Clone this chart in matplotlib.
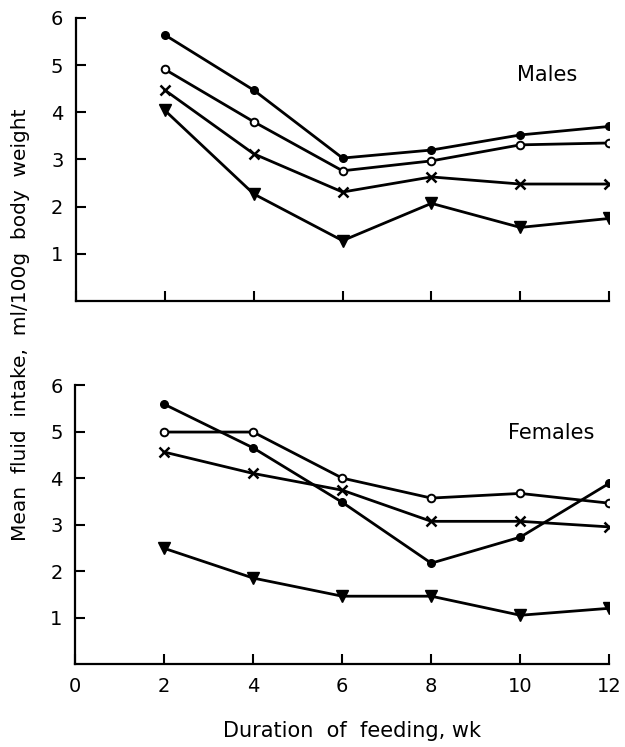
import matplotlib
matplotlib.use("Agg")
import matplotlib.pyplot as plt

weeks = [2, 4, 6, 8, 10, 12]

# males, ml/100 g body weight
males_filled = [5.64, 4.47, 3.03, 3.20, 3.52, 3.70]
males_open = [4.91, 3.80, 2.76, 2.97, 3.31, 3.35]
males_cross = [4.47, 3.12, 2.31, 2.63, 2.48, 2.48]
males_tri = [4.04, 2.27, 1.28, 2.07, 1.56, 1.75]

# females
females_filled = [5.59, 4.65, 3.48, 2.17, 2.73, 3.89]
females_open = [4.99, 4.99, 4.00, 3.57, 3.67, 3.46]
females_cross = [4.56, 4.10, 3.74, 3.07, 3.07, 2.95]
females_tri = [2.49, 1.85, 1.46, 1.46, 1.05, 1.20]

x_ticks = [0, 2, 4, 6, 8, 10, 12]
y_ticks = [1, 2, 3, 4, 5, 6]

plt.rcParams["font.family"] = "DejaVu Sans"

fig = plt.figure(figsize=(6.25, 7.47), dpi=100)
ax_m = fig.add_axes([0.1216, 0.597, 0.853, 0.379])
ax_f = fig.add_axes([0.120, 0.111, 0.855, 0.3735])


def draw(ax, filled, open_, cross, tri, label, lx, ly, show_x):
    lw = 2.0
    ax.plot(weeks, filled, color="black", lw=lw, marker="o", ms=5.5, mfc="black", mec="black")
    ax.plot(weeks, open_, color="black", lw=lw, marker="o", ms=5.5, mfc="white", mec="black", mew=1.4)
    ax.plot(weeks, cross, color="black", lw=lw, marker="x", ms=7.5, mew=1.8)
    ax.plot(weeks, tri, color="black", lw=lw, marker="v", ms=8, mfc="black", mec="black")
    ax.text(lx, ly, label, fontsize=15, ha="center", va="center")
    ax.set_xlim(0, 12)
    ax.set_ylim(0, 6)
    ax.set_yticks(y_ticks)
    ax.set_xticks(x_ticks)
    ax.spines["top"].set_visible(False)
    ax.spines["right"].set_visible(False)
    for s in ("left", "bottom"):
        ax.spines[s].set_linewidth(1.6)
    ax.tick_params(direction="in", length=7, width=1.5, labelsize=14, pad=9)
    if not show_x:
        ax.tick_params(axis="x", labelbottom=False)


draw(ax_m, males_filled, males_open, males_cross, males_tri, "Males", 10.6, 4.79, False)
draw(ax_f, females_filled, females_open, females_cross, females_tri, "Females", 10.7, 4.97, True)

fig.text(0.033, 0.565, "Mean  fluid  intake,  ml/100g  body  weight", rotation=90,
         fontsize=14.5, ha="center", va="center")
fig.text(0.563, 0.008, "Duration  of  feeding, wk", fontsize=15, ha="center", va="bottom")

fig.savefig("out.png", dpi=100)
